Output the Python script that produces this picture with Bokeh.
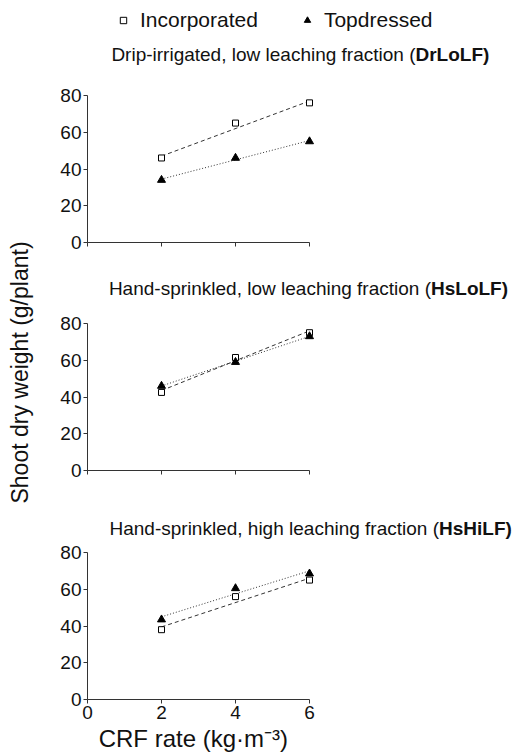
import numpy as np
from bokeh.plotting import figure
from bokeh.layouts import row, column
from bokeh.models import Range1d, FixedTicker, Legend, LegendItem
from bokeh.core.properties import value
from bokeh.embed import file_html
from bokeh.resources import INLINE

# ---------------- data ----------------
rates = [2, 4, 6]
fit_rates = [2, 6]

dr_incorporated = [46, 65, 76]
dr_topdressed = [34, 46, 55]
dr_incorporated_fit = [47, 77]
dr_topdressed_fit = [34.5, 55.5]

hslo_incorporated = [42.5, 61.5, 75]
hslo_topdressed = [46, 59, 73]
hslo_incorporated_fit = [43.5, 76]
hslo_topdressed_fit = [46, 73]

hshi_incorporated = [38, 56, 65]
hshi_topdressed = [43.5, 60.5, 68.5]
hshi_incorporated_fit = [39.5, 66]
hshi_topdressed_fit = [45, 70]

title_texts = ["Drip-irrigated, low leaching fraction (",
               "Hand-sprinkled, low leaching fraction (",
               "Hand-sprinkled, high leaching fraction ("]
title_codes = ["DrLoLF)", "HsLoLF)", "HsHiLF)"]
y_ticks = [0, 20, 40, 60, 80]
x_ticks = [0, 2, 4, 6]
series_names = ["Incorporated", "Topdressed"]
x_title = "CRF rate (kg\u00b7m\u207b\u00b3)"
y_title = "Shoot dry weight (g/plant)"

# ---------------- layout constants (pixels) ----------------
FONT = "Liberation Sans"
INK = "#111111"
LINE = "#333333"
PX_Y = 147 / 80.0
PX_X = 37.0
LEFT_W = 42
BORDER_L = 45
FRAME_LEFT_PAGE = LEFT_W + BORDER_L
FRAME_W = 426
frame_tops = [8, 253, 481]
frame_bottoms = [242, 470, 699]
bottom_borders = [11, 11, 26]
title_page_y = [54, 288, 528]
title_split_page_x = [415, 430.5, 438.5]
XLAB_H = 27
XLAB_X = 117
TOTAL_H = 754


def make_panel(i, inc, top, inc_fit, top_fit, last):
    fh = frame_bottoms[i] - frame_tops[i]
    p = figure(frame_width=FRAME_W, frame_height=fh,
               x_range=Range1d(0, FRAME_W / PX_X), y_range=Range1d(0, fh / PX_Y),
               min_border_left=BORDER_L, min_border_right=0,
               min_border_top=(frame_tops[0] if i == 0 else 0),
               min_border_bottom=bottom_borders[i],
               toolbar_location=None, output_backend="svg",
               outline_line_color=None, background_fill_color="white",
               border_fill_color="white")
    p.grid.visible = False

    xa = p.xaxis[0]
    xa.bounds = (0, 6)
    ya = p.yaxis[0]
    ya.bounds = (0, 80)
    ya.ticker = FixedTicker(ticks=y_ticks)
    for ax in (xa, ya):
        ax.axis_line_color = LINE
        ax.major_tick_line_color = LINE
        ax.minor_tick_line_color = None
        ax.major_tick_out = 4
        ax.major_tick_in = 0
        ax.major_label_text_color = INK
        ax.major_label_text_font = FONT
        ax.major_label_text_font_size = "19px"
        ax.major_label_standoff = 2
    if last:
        xa.ticker = FixedTicker(ticks=x_ticks)
    else:
        # tick marks only, no labels on the upper panels
        xa.ticker = FixedTicker(ticks=[], minor_ticks=x_ticks)
        xa.minor_tick_line_color = LINE
        xa.minor_tick_out = 4
        xa.minor_tick_in = 0

    # fitted lines
    p.line(fit_rates, inc_fit, line_color=LINE, line_width=1, line_dash="4 3")
    p.line(fit_rates, top_fit, line_color=LINE, line_width=1, line_dash="1 2")
    # points
    r_inc = p.scatter(rates, inc, marker="square", size=6, fill_color="white",
                      line_color="black", line_width=1)
    r_top = p.scatter(rates, top, marker="triangle", size=8, fill_color="black",
                      line_color="black", line_width=1)

    # panel title (normal text + bold code)
    ty = (frame_bottoms[i] - title_page_y[i]) / PX_Y
    tx = (title_split_page_x[i] - FRAME_LEFT_PAGE) / PX_X
    p.text(x=[tx], y=[ty], text=[title_texts[i]], text_align="right",
           text_baseline="middle", text_font=value(FONT), text_font_size="19px",
           text_color=INK)
    p.text(x=[tx], y=[ty], text=[title_codes[i]], text_align="left",
           text_baseline="middle", text_font=value(FONT), text_font_size="19px",
           text_font_style="bold", text_color=INK)
    return p, r_inc, r_top


f1, ri, rt = make_panel(0, dr_incorporated, dr_topdressed,
                        dr_incorporated_fit, dr_topdressed_fit, False)
f2, _, _ = make_panel(1, hslo_incorporated, hslo_topdressed,
                      hslo_incorporated_fit, hslo_topdressed_fit, False)
f3, _, _ = make_panel(2, hshi_incorporated, hshi_topdressed,
                      hshi_incorporated_fit, hshi_topdressed_fit, True)

legend = Legend(items=[LegendItem(label=series_names[0], renderers=[ri]),
                       LegendItem(label=series_names[1], renderers=[rt])],
                orientation="horizontal", location=(28, 210), padding=0, margin=0,
                spacing=41, label_standoff=9, glyph_width=16, glyph_height=16,
                label_text_font=FONT, label_text_font_size="21px",
                label_text_color=INK, border_line_color=None,
                background_fill_alpha=0)
f1.add_layout(legend)

# x-axis title, centred under the 0-6 axis
xlab_w = BORDER_L + FRAME_W
xlab = figure(width=xlab_w, height=XLAB_H, x_range=Range1d(0, xlab_w),
              y_range=Range1d(0, XLAB_H), min_border=0,
              x_axis_location=None, y_axis_location=None,
              toolbar_location=None, output_backend="svg", outline_line_color=None)
xlab.grid.visible = False
xlab.text(x=[XLAB_X], y=[XLAB_H / 2 + 0.5], text=[x_title],
          text_align="center", text_baseline="middle", text_font=value(FONT),
          text_font_size="24px", text_color=INK)

# shared y-axis title
ylab = figure(width=LEFT_W, height=TOTAL_H, x_range=Range1d(0, LEFT_W),
              y_range=Range1d(0, TOTAL_H),
              min_border=0, x_axis_location=None, y_axis_location=None,
              toolbar_location=None, output_backend="svg", outline_line_color=None)
ylab.grid.visible = False
ylab.text(x=[19], y=[TOTAL_H - 372], text=[y_title], angle=np.pi / 2,
          text_align="center", text_baseline="middle", text_font=value(FONT),
          text_font_size="23px", text_color=INK)

layout = row(ylab, column(f1, f2, f3, xlab))
open("out.html", "w").write(file_html(layout, INLINE))
